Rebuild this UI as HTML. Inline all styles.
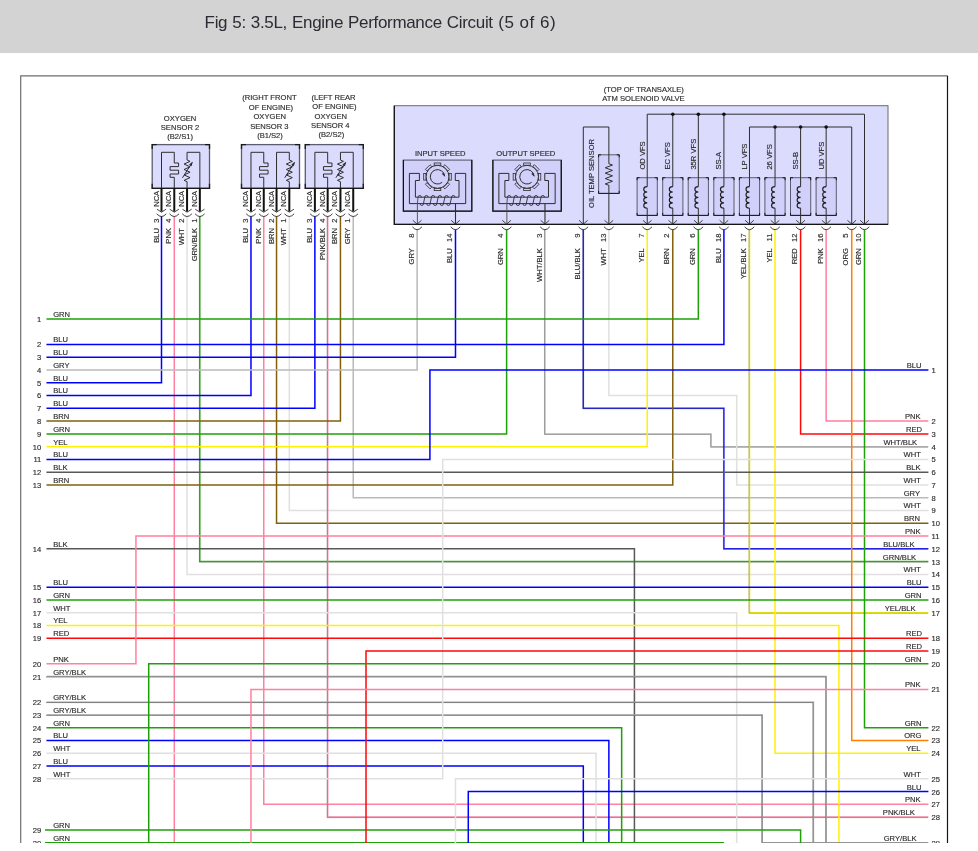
<!DOCTYPE html>
<html><head><meta charset="utf-8"><title>Fig 5: 3.5L, Engine Performance Circuit (5 of 6)</title>
<style>
html,body{margin:0;padding:0;background:#fff;}
body{width:978px;height:851px;position:relative;overflow:hidden;font-family:"Liberation Sans",sans-serif;}
.hdr{position:absolute;left:0;top:0;width:978px;height:53px;background:#d3d3d3;}
.hdr b{font-weight:normal;letter-spacing:0.5px;word-spacing:0;margin-left:0.5px;}
.hdr span{position:absolute;left:204.6px;top:11.6px;font-size:17px;line-height:22px;color:#2b2b33;white-space:nowrap;letter-spacing:-0.32px;word-spacing:0.6px;}
svg{position:absolute;left:0;top:0;}
.t text, text{font-family:"Liberation Sans",sans-serif;font-size:7.6px;fill:#2c2c2c;stroke:#2c2c2c;stroke-width:0.15px;}
</style></head><body>
<div class="hdr"><span>Fig 5: 3.5L, Engine Performance Circuit <b>(5 of 6)</b></span></div>
<svg width="978" height="843" viewBox="0 0 978 843">
<g fill="none" stroke-width="1.5" stroke-linejoin="miter">
<path d="M161.50 216.00 L161.50 382.77 L46.46 382.77" stroke="#0000ff"/>
<path d="M174.28 216.00 L174.28 860.00" stroke="#ff80a0"/>
<path d="M187.06 216.00 L187.06 574.40 L928.42 574.40" stroke="#e0e0e0"/>
<path d="M199.85 216.00 L199.85 561.62 L928.42 561.62" stroke="#3cac28"/>
<path d="M199.85 216.00 L199.85 561.62 L928.42 561.62" stroke="#3a3a3a" stroke-opacity="0.6" stroke-width="0.55" transform="translate(-0.5 0.5)"/>
<path d="M250.97 216.00 L250.97 395.55 L46.46 395.55" stroke="#0000ff"/>
<path d="M263.76 216.00 L263.76 804.35 L928.42 804.35" stroke="#ff80a0"/>
<path d="M276.54 216.00 L276.54 523.30 L928.42 523.30" stroke="#80600a"/>
<path d="M289.32 216.00 L289.32 510.52 L928.42 510.52" stroke="#e0e0e0"/>
<path d="M314.88 216.00 L314.88 408.32 L46.46 408.32" stroke="#0000ff"/>
<path d="M327.67 216.00 L327.67 817.12 L928.42 817.12" stroke="#f088a4"/>
<path d="M327.67 216.00 L327.67 817.12 L928.42 817.12" stroke="#3a3a3a" stroke-opacity="0.6" stroke-width="0.55" transform="translate(-0.5 0.5)"/>
<path d="M340.45 216.00 L340.45 421.10 L46.46 421.10" stroke="#80600a"/>
<path d="M353.23 216.00 L353.23 497.75 L928.42 497.75" stroke="#bababa"/>
<path d="M417.14 229.50 L417.14 370.00 L46.46 370.00" stroke="#bababa"/>
<path d="M455.49 229.50 L455.49 357.22 L46.46 357.22" stroke="#0000ff"/>
<path d="M506.61 229.50 L506.61 433.88 L46.46 433.88" stroke="#1ea008"/>
<path d="M544.96 229.50 L544.96 433.88 L711.13 433.88 L711.13 446.65 L928.42 446.65" stroke="#bcbcbc"/>
<path d="M544.96 229.50 L544.96 433.88 L711.13 433.88 L711.13 446.65 L928.42 446.65" stroke="#3a3a3a" stroke-opacity="0.6" stroke-width="0.55" transform="translate(-0.5 0.5)"/>
<path d="M583.31 229.50 L583.31 408.32 L723.91 408.32 L723.91 548.85 L928.42 548.85" stroke="#2222ee"/>
<path d="M583.31 229.50 L583.31 408.32 L723.91 408.32 L723.91 548.85 L928.42 548.85" stroke="#3a3a3a" stroke-opacity="0.6" stroke-width="0.55" transform="translate(-0.5 0.5)"/>
<path d="M608.87 229.50 L608.87 395.55 L736.69 395.55 L736.69 484.98 L928.42 484.98" stroke="#e0e0e0"/>
<path d="M647.22 229.50 L647.22 446.65 L46.46 446.65" stroke="#fff200"/>
<path d="M672.78 229.50 L672.78 484.98 L46.46 484.98" stroke="#80600a"/>
<path d="M698.34 229.50 L698.34 318.90 L46.46 318.90" stroke="#1ea008"/>
<path d="M723.91 229.50 L723.91 344.45 L46.46 344.45" stroke="#0000ff"/>
<path d="M749.47 229.50 L749.47 612.72 L928.42 612.72" stroke="#ecec10"/>
<path d="M749.47 229.50 L749.47 612.72 L928.42 612.72" stroke="#3a3a3a" stroke-opacity="0.6" stroke-width="0.55" transform="translate(-0.5 0.5)"/>
<path d="M775.04 229.50 L775.04 753.25 L928.42 753.25" stroke="#fff200"/>
<path d="M800.60 229.50 L800.60 433.88 L928.42 433.88" stroke="#ff0808"/>
<path d="M826.16 229.50 L826.16 421.10 L928.42 421.10" stroke="#ff80a0"/>
<path d="M851.73 229.50 L851.73 740.47 L928.42 740.47" stroke="#ff8000"/>
<path d="M864.51 229.50 L864.51 727.70 L928.42 727.70" stroke="#1ea008"/>
<path d="M46.46 459.42 L429.92 459.42 L429.92 370.00 L928.42 370.00" stroke="#0000ff"/>
<path d="M46.46 472.20 L928.42 472.20" stroke="#585858"/>
<path d="M46.46 548.85 L634.43 548.85 L634.43 860.00" stroke="#585858"/>
<path d="M46.46 587.17 L928.42 587.17" stroke="#0000ff"/>
<path d="M46.46 599.95 L928.42 599.95" stroke="#1ea008"/>
<path d="M46.46 612.72 L736.69 612.72 L736.69 860.00" stroke="#e0e0e0"/>
<path d="M46.46 625.50 L838.95 625.50 L838.95 860.00" stroke="#fff200"/>
<path d="M46.46 638.27 L928.42 638.27" stroke="#ff0808"/>
<path d="M46.46 663.83 L135.94 663.83 L135.94 536.08 L928.42 536.08" stroke="#ff80a0"/>
<path d="M46.46 676.60 L826.16 676.60 L826.16 860.00" stroke="#a0a0a0"/>
<path d="M46.46 676.60 L826.16 676.60 L826.16 860.00" stroke="#3a3a3a" stroke-opacity="0.6" stroke-width="0.55" transform="translate(-0.5 0.5)"/>
<path d="M46.46 702.15 L813.38 702.15 L813.38 860.00" stroke="#a0a0a0"/>
<path d="M46.46 702.15 L813.38 702.15 L813.38 860.00" stroke="#3a3a3a" stroke-opacity="0.6" stroke-width="0.55" transform="translate(-0.5 0.5)"/>
<path d="M46.46 714.92 L762.25 714.92 L762.25 842.67 L928.42 842.67" stroke="#a0a0a0"/>
<path d="M46.46 714.92 L762.25 714.92 L762.25 842.67 L928.42 842.67" stroke="#3a3a3a" stroke-opacity="0.6" stroke-width="0.55" transform="translate(-0.5 0.5)"/>
<path d="M46.46 727.70 L621.65 727.70 L621.65 860.00" stroke="#1ea008"/>
<path d="M46.46 740.47 L608.87 740.47 L608.87 860.00" stroke="#0000ff"/>
<path d="M46.46 753.25 L596.09 753.25 L596.09 860.00" stroke="#e0e0e0"/>
<path d="M46.46 766.02 L583.31 766.02 L583.31 860.00" stroke="#0000ff"/>
<path d="M46.46 778.80 L442.70 778.80 L442.70 459.42 L928.42 459.42" stroke="#e0e0e0"/>
<path d="M45.00 829.90 L800.60 829.90 L800.60 860.00" stroke="#1ea008"/>
<path d="M45.00 842.67 L723.91 842.67" stroke="#1ea008"/>
<path d="M928.42 651.05 L366.01 651.05 L366.01 860.00" stroke="#ff0808"/>
<path d="M928.42 663.83 L148.72 663.83 L148.72 860.00" stroke="#1ea008"/>
<path d="M928.42 689.38 L250.97 689.38 L250.97 860.00" stroke="#ff80a0"/>
<path d="M928.42 778.80 L455.49 778.80 L455.49 860.00" stroke="#e0e0e0"/>
<path d="M928.42 791.58 L468.27 791.58 L468.27 860.00" stroke="#0000ff"/>
</g>
<g class="t">
<text x="41.3" y="321.8" text-anchor="end">1</text><text x="53.2" y="316.8">GRN</text>
<text x="41.3" y="347.3" text-anchor="end">2</text><text x="53.2" y="342.3">BLU</text>
<text x="41.3" y="360.1" text-anchor="end">3</text><text x="53.2" y="355.1">BLU</text>
<text x="41.3" y="372.9" text-anchor="end">4</text><text x="53.2" y="367.9">GRY</text>
<text x="41.3" y="385.7" text-anchor="end">5</text><text x="53.2" y="380.7">BLU</text>
<text x="41.3" y="398.4" text-anchor="end">6</text><text x="53.2" y="393.4">BLU</text>
<text x="41.3" y="411.2" text-anchor="end">7</text><text x="53.2" y="406.2">BLU</text>
<text x="41.3" y="424.0" text-anchor="end">8</text><text x="53.2" y="419.0">BRN</text>
<text x="41.3" y="436.8" text-anchor="end">9</text><text x="53.2" y="431.8">GRN</text>
<text x="41.3" y="449.5" text-anchor="end">10</text><text x="53.2" y="444.5">YEL</text>
<text x="41.3" y="462.3" text-anchor="end">11</text><text x="53.2" y="457.3">BLU</text>
<text x="41.3" y="475.1" text-anchor="end">12</text><text x="53.2" y="470.1">BLK</text>
<text x="41.3" y="487.9" text-anchor="end">13</text><text x="53.2" y="482.9">BRN</text>
<text x="41.3" y="551.8" text-anchor="end">14</text><text x="53.2" y="546.8">BLK</text>
<text x="41.3" y="590.1" text-anchor="end">15</text><text x="53.2" y="585.1">BLU</text>
<text x="41.3" y="602.9" text-anchor="end">16</text><text x="53.2" y="597.9">GRN</text>
<text x="41.3" y="615.6" text-anchor="end">17</text><text x="53.2" y="610.6">WHT</text>
<text x="41.3" y="628.4" text-anchor="end">18</text><text x="53.2" y="623.4">YEL</text>
<text x="41.3" y="641.2" text-anchor="end">19</text><text x="53.2" y="636.2">RED</text>
<text x="41.3" y="666.7" text-anchor="end">20</text><text x="53.2" y="661.7">PNK</text>
<text x="41.3" y="679.5" text-anchor="end">21</text><text x="53.2" y="674.5">GRY/BLK</text>
<text x="41.3" y="705.0" text-anchor="end">22</text><text x="53.2" y="700.0">GRY/BLK</text>
<text x="41.3" y="717.8" text-anchor="end">23</text><text x="53.2" y="712.8">GRY/BLK</text>
<text x="41.3" y="730.6" text-anchor="end">24</text><text x="53.2" y="725.6">GRN</text>
<text x="41.3" y="743.4" text-anchor="end">25</text><text x="53.2" y="738.4">BLU</text>
<text x="41.3" y="756.1" text-anchor="end">26</text><text x="53.2" y="751.1">WHT</text>
<text x="41.3" y="768.9" text-anchor="end">27</text><text x="53.2" y="763.9">BLU</text>
<text x="41.3" y="781.7" text-anchor="end">28</text><text x="53.2" y="776.7">WHT</text>
<text x="41.3" y="832.8" text-anchor="end">29</text><text x="53.2" y="827.8">GRN</text>
<text x="41.3" y="845.6" text-anchor="end">30</text><text x="53.2" y="840.6">GRN</text>
<text x="931.5" y="372.9">1</text><text x="921.5" y="367.9" text-anchor="end">BLU</text>
<text x="931.5" y="424.0">2</text><text x="920.5" y="419.0" text-anchor="end">PNK</text>
<text x="931.5" y="436.8">3</text><text x="922.0" y="431.8" text-anchor="end">RED</text>
<text x="931.5" y="449.5">4</text><text x="917.2" y="444.5" text-anchor="end">WHT/BLK</text>
<text x="931.5" y="462.3">5</text><text x="920.8" y="457.3" text-anchor="end">WHT</text>
<text x="931.5" y="475.1">6</text><text x="920.5" y="470.1" text-anchor="end">BLK</text>
<text x="931.5" y="487.9">7</text><text x="920.8" y="482.9" text-anchor="end">WHT</text>
<text x="931.5" y="500.6">8</text><text x="920.0" y="495.6" text-anchor="end">GRY</text>
<text x="931.5" y="513.4">9</text><text x="920.8" y="508.4" text-anchor="end">WHT</text>
<text x="931.5" y="526.2">10</text><text x="920.0" y="521.2" text-anchor="end">BRN</text>
<text x="931.5" y="539.0">11</text><text x="920.5" y="534.0" text-anchor="end">PNK</text>
<text x="931.5" y="551.8">12</text><text x="914.5" y="546.8" text-anchor="end">BLU/BLK</text>
<text x="931.5" y="564.5">13</text><text x="916.2" y="559.5" text-anchor="end">GRN/BLK</text>
<text x="931.5" y="577.3">14</text><text x="920.8" y="572.3" text-anchor="end">WHT</text>
<text x="931.5" y="590.1">15</text><text x="921.5" y="585.1" text-anchor="end">BLU</text>
<text x="931.5" y="602.9">16</text><text x="921.5" y="597.9" text-anchor="end">GRN</text>
<text x="931.5" y="615.6">17</text><text x="915.5" y="610.6" text-anchor="end">YEL/BLK</text>
<text x="931.5" y="641.2">18</text><text x="922.0" y="636.2" text-anchor="end">RED</text>
<text x="931.5" y="653.9">19</text><text x="922.0" y="648.9" text-anchor="end">RED</text>
<text x="931.5" y="666.7">20</text><text x="921.5" y="661.7" text-anchor="end">GRN</text>
<text x="931.5" y="692.3">21</text><text x="920.5" y="687.3" text-anchor="end">PNK</text>
<text x="931.5" y="730.6">22</text><text x="921.5" y="725.6" text-anchor="end">GRN</text>
<text x="931.5" y="743.4">23</text><text x="921.5" y="738.4" text-anchor="end">ORG</text>
<text x="931.5" y="756.1">24</text><text x="920.5" y="751.1" text-anchor="end">YEL</text>
<text x="931.5" y="781.7">25</text><text x="920.8" y="776.7" text-anchor="end">WHT</text>
<text x="931.5" y="794.5">26</text><text x="921.5" y="789.5" text-anchor="end">BLU</text>
<text x="931.5" y="807.2">27</text><text x="920.5" y="802.2" text-anchor="end">PNK</text>
<text x="931.5" y="820.0">28</text><text x="914.9" y="815.0" text-anchor="end">PNK/BLK</text>
<text x="931.5" y="845.6">29</text><text x="916.5" y="840.6" text-anchor="end">GRY/BLK</text>
</g>
<rect x="152.2" y="144.6" width="57.3" height="43.7" fill="#dbdbfd" stroke="#5c5c70" stroke-width="1.3"/>
<path d="M152.2 149.1 V144.6 H156.7 M205.0 144.6 H209.5 V149.1 M209.5 183.8 V188.3 H152.2 V183.8" stroke="#1a1a1a" stroke-width="1.3" fill="none" stroke-linecap="butt"/>
<path d="M161.5 188 V152.3 H174.28 M174.28 152.3 V163 H178.58 V166.6 H170.08 V170.2 H178.58 V174 H170.08 V177.3 H174.28 V188" stroke="#2e2e2e" stroke-width="1" fill="none"/>
<path d="M199.85 188 V152.3 H187.06 V160 " stroke="#2e2e2e" stroke-width="1" fill="none"/>
<path d="M187.06 160.00 L190.06 161.36 L184.06 164.07 L190.06 166.78 L184.06 169.49 L190.06 172.21 L184.06 174.92 L190.06 177.63 L184.06 180.34 L187.06 181.70 V188" stroke="#2e2e2e" stroke-width="1" fill="none"/>
<path d="M182.46 177.8 L192.26 162.4" stroke="#2e2e2e" stroke-width="1" fill="none"/>
<path d="M192.66 161.8 L189.06 164.4 L191.66 166.2 Z" fill="#2e2e2e"/>
<path d="M161.5 188 V211.6" stroke="#111" stroke-width="2" fill="none"/>
<path d="M156.9 209.2 L161.5 212.2 L166.1 209.2 M156.7 213.8 Q161.5 219.2 166.3 213.8" stroke="#2e2e2e" stroke-width="0.9" fill="none"/>
<path d="M174.28 188 V211.6" stroke="#111" stroke-width="2" fill="none"/>
<path d="M169.68 209.2 L174.28 212.2 L178.88 209.2 M169.48 213.8 Q174.28 219.2 179.08 213.8" stroke="#2e2e2e" stroke-width="0.9" fill="none"/>
<path d="M187.06 188 V211.6" stroke="#111" stroke-width="2" fill="none"/>
<path d="M182.46 209.2 L187.06 212.2 L191.66 209.2 M182.26 213.8 Q187.06 219.2 191.86 213.8" stroke="#2e2e2e" stroke-width="0.9" fill="none"/>
<path d="M199.85 188 V211.6" stroke="#111" stroke-width="2" fill="none"/>
<path d="M195.25 209.2 L199.85 212.2 L204.45 209.2 M195.04999999999998 213.8 Q199.85 219.2 204.65 213.8" stroke="#2e2e2e" stroke-width="0.9" fill="none"/>
<rect x="241.5" y="144.6" width="58.0" height="43.7" fill="#dbdbfd" stroke="#5c5c70" stroke-width="1.3"/>
<path d="M241.5 149.1 V144.6 H246.0 M295.0 144.6 H299.5 V149.1 M299.5 183.8 V188.3 H241.5 V183.8" stroke="#1a1a1a" stroke-width="1.3" fill="none" stroke-linecap="butt"/>
<path d="M250.97 188 V152.3 H263.76 M263.76 152.3 V163 H268.06 V166.6 H259.56 V170.2 H268.06 V174 H259.56 V177.3 H263.76 V188" stroke="#2e2e2e" stroke-width="1" fill="none"/>
<path d="M276.54 188 V152.3 H289.32 V160 " stroke="#2e2e2e" stroke-width="1" fill="none"/>
<path d="M289.32 160.00 L292.32 161.36 L286.32 164.07 L292.32 166.78 L286.32 169.49 L292.32 172.21 L286.32 174.92 L292.32 177.63 L286.32 180.34 L289.32 181.70 V188" stroke="#2e2e2e" stroke-width="1" fill="none"/>
<path d="M284.71999999999997 177.8 L294.52 162.4" stroke="#2e2e2e" stroke-width="1" fill="none"/>
<path d="M294.92 161.8 L291.32 164.4 L293.92 166.2 Z" fill="#2e2e2e"/>
<path d="M250.97 188 V211.6" stroke="#111" stroke-width="2" fill="none"/>
<path d="M246.37 209.2 L250.97 212.2 L255.57 209.2 M246.17 213.8 Q250.97 219.2 255.77 213.8" stroke="#2e2e2e" stroke-width="0.9" fill="none"/>
<path d="M263.76 188 V211.6" stroke="#111" stroke-width="2" fill="none"/>
<path d="M259.15999999999997 209.2 L263.76 212.2 L268.36 209.2 M258.96 213.8 Q263.76 219.2 268.56 213.8" stroke="#2e2e2e" stroke-width="0.9" fill="none"/>
<path d="M276.54 188 V211.6" stroke="#111" stroke-width="2" fill="none"/>
<path d="M271.94 209.2 L276.54 212.2 L281.14000000000004 209.2 M271.74 213.8 Q276.54 219.2 281.34000000000003 213.8" stroke="#2e2e2e" stroke-width="0.9" fill="none"/>
<path d="M289.32 188 V211.6" stroke="#111" stroke-width="2" fill="none"/>
<path d="M284.71999999999997 209.2 L289.32 212.2 L293.92 209.2 M284.52 213.8 Q289.32 219.2 294.12 213.8" stroke="#2e2e2e" stroke-width="0.9" fill="none"/>
<rect x="305.3" y="144.6" width="58.0" height="43.7" fill="#dbdbfd" stroke="#5c5c70" stroke-width="1.3"/>
<path d="M305.3 149.1 V144.6 H309.8 M358.8 144.6 H363.3 V149.1 M363.3 183.8 V188.3 H305.3 V183.8" stroke="#1a1a1a" stroke-width="1.3" fill="none" stroke-linecap="butt"/>
<path d="M314.88 188 V152.3 H327.67 M327.67 152.3 V163 H331.97 V166.6 H323.47 V170.2 H331.97 V174 H323.47 V177.3 H327.67 V188" stroke="#2e2e2e" stroke-width="1" fill="none"/>
<path d="M353.23 188 V152.3 H340.45 V160 " stroke="#2e2e2e" stroke-width="1" fill="none"/>
<path d="M340.45 160.00 L343.45 161.36 L337.45 164.07 L343.45 166.78 L337.45 169.49 L343.45 172.21 L337.45 174.92 L343.45 177.63 L337.45 180.34 L340.45 181.70 V188" stroke="#2e2e2e" stroke-width="1" fill="none"/>
<path d="M335.84999999999997 177.8 L345.65 162.4" stroke="#2e2e2e" stroke-width="1" fill="none"/>
<path d="M346.05 161.8 L342.45 164.4 L345.05 166.2 Z" fill="#2e2e2e"/>
<path d="M314.88 188 V211.6" stroke="#111" stroke-width="2" fill="none"/>
<path d="M310.28 209.2 L314.88 212.2 L319.48 209.2 M310.08 213.8 Q314.88 219.2 319.68 213.8" stroke="#2e2e2e" stroke-width="0.9" fill="none"/>
<path d="M327.67 188 V211.6" stroke="#111" stroke-width="2" fill="none"/>
<path d="M323.07 209.2 L327.67 212.2 L332.27000000000004 209.2 M322.87 213.8 Q327.67 219.2 332.47 213.8" stroke="#2e2e2e" stroke-width="0.9" fill="none"/>
<path d="M340.45 188 V211.6" stroke="#111" stroke-width="2" fill="none"/>
<path d="M335.84999999999997 209.2 L340.45 212.2 L345.05 209.2 M335.65 213.8 Q340.45 219.2 345.25 213.8" stroke="#2e2e2e" stroke-width="0.9" fill="none"/>
<path d="M353.23 188 V211.6" stroke="#111" stroke-width="2" fill="none"/>
<path d="M348.63 209.2 L353.23 212.2 L357.83000000000004 209.2 M348.43 213.8 Q353.23 219.2 358.03000000000003 213.8" stroke="#2e2e2e" stroke-width="0.9" fill="none"/>
<g class="t">
<text transform="translate(158.5 190.8) rotate(-90)" text-anchor="end">NCA</text>
<text transform="translate(158.5 218.6) rotate(-90)" text-anchor="end">3</text>
<text transform="translate(158.5 228.0) rotate(-90)" text-anchor="end">BLU</text>
<text transform="translate(171.3 190.8) rotate(-90)" text-anchor="end">NCA</text>
<text transform="translate(171.3 218.6) rotate(-90)" text-anchor="end">4</text>
<text transform="translate(171.3 228.0) rotate(-90)" text-anchor="end">PNK</text>
<text transform="translate(184.1 190.8) rotate(-90)" text-anchor="end">NCA</text>
<text transform="translate(184.1 218.6) rotate(-90)" text-anchor="end">2</text>
<text transform="translate(184.1 228.0) rotate(-90)" text-anchor="end">WHT</text>
<text transform="translate(196.8 190.8) rotate(-90)" text-anchor="end">NCA</text>
<text transform="translate(196.8 218.6) rotate(-90)" text-anchor="end">1</text>
<text transform="translate(196.8 228.0) rotate(-90)" text-anchor="end">GRN/BLK</text>
<text transform="translate(248.0 190.8) rotate(-90)" text-anchor="end">NCA</text>
<text transform="translate(248.0 218.6) rotate(-90)" text-anchor="end">3</text>
<text transform="translate(248.0 228.0) rotate(-90)" text-anchor="end">BLU</text>
<text transform="translate(260.8 190.8) rotate(-90)" text-anchor="end">NCA</text>
<text transform="translate(260.8 218.6) rotate(-90)" text-anchor="end">4</text>
<text transform="translate(260.8 228.0) rotate(-90)" text-anchor="end">PNK</text>
<text transform="translate(273.5 190.8) rotate(-90)" text-anchor="end">NCA</text>
<text transform="translate(273.5 218.6) rotate(-90)" text-anchor="end">2</text>
<text transform="translate(273.5 228.0) rotate(-90)" text-anchor="end">BRN</text>
<text transform="translate(286.3 190.8) rotate(-90)" text-anchor="end">NCA</text>
<text transform="translate(286.3 218.6) rotate(-90)" text-anchor="end">1</text>
<text transform="translate(286.3 228.0) rotate(-90)" text-anchor="end">WHT</text>
<text transform="translate(311.9 190.8) rotate(-90)" text-anchor="end">NCA</text>
<text transform="translate(311.9 218.6) rotate(-90)" text-anchor="end">3</text>
<text transform="translate(311.9 228.0) rotate(-90)" text-anchor="end">BLU</text>
<text transform="translate(324.7 190.8) rotate(-90)" text-anchor="end">NCA</text>
<text transform="translate(324.7 218.6) rotate(-90)" text-anchor="end">4</text>
<text transform="translate(324.7 228.0) rotate(-90)" text-anchor="end">PNK/BLK</text>
<text transform="translate(337.4 190.8) rotate(-90)" text-anchor="end">NCA</text>
<text transform="translate(337.4 218.6) rotate(-90)" text-anchor="end">2</text>
<text transform="translate(337.4 228.0) rotate(-90)" text-anchor="end">BRN</text>
<text transform="translate(350.2 190.8) rotate(-90)" text-anchor="end">NCA</text>
<text transform="translate(350.2 218.6) rotate(-90)" text-anchor="end">1</text>
<text transform="translate(350.2 228.0) rotate(-90)" text-anchor="end">GRY</text>
</g>
<rect x="394.3" y="105.7" width="493.7" height="118.6" fill="#dbdbfd" stroke="#6a6a6a" stroke-width="1"/>
<path d="M394.3 105.7 V224.3 H888" stroke="#141414" stroke-width="1.3" fill="none"/>
<rect x="403.4" y="160.1" width="68.4" height="51.1" fill="#d0d0fa" stroke="#66667c" stroke-width="1.2"/>
<path d="M403.4 160.1 V211.2 H471.79999999999995 V160.1" fill="none" stroke="#121212" stroke-width="1.2"/>
<path d="M409.4 173.4 H419.4 V180.5 H415.4 V197.2 H459.0 V180.5 H455.3 V173.4 H465.7 V203.6 H409.4 Z" stroke="#2e2e2e" stroke-width="1" fill="none"/>
<circle cx="437.5" cy="176.8" r="11.5" stroke="#2e2e2e" stroke-width="1" fill="none"/>
 <rect x="434.2" y="163.0" width="6.6" height="2.2" stroke="#2e2e2e" stroke-width="0.8" fill="#d0d0fa" transform="rotate(0 437.5 176.8)"/>
 <rect x="434.2" y="163.0" width="6.6" height="2.2" stroke="#2e2e2e" stroke-width="0.8" fill="#d0d0fa" transform="rotate(45 437.5 176.8)"/>
 <rect x="434.2" y="163.0" width="6.6" height="2.2" stroke="#2e2e2e" stroke-width="0.8" fill="#d0d0fa" transform="rotate(90 437.5 176.8)"/>
 <rect x="434.2" y="163.0" width="6.6" height="2.2" stroke="#2e2e2e" stroke-width="0.8" fill="#d0d0fa" transform="rotate(135 437.5 176.8)"/>
 <rect x="434.2" y="163.0" width="6.6" height="2.2" stroke="#2e2e2e" stroke-width="0.8" fill="#d0d0fa" transform="rotate(180 437.5 176.8)"/>
 <rect x="434.2" y="163.0" width="6.6" height="2.2" stroke="#2e2e2e" stroke-width="0.8" fill="#d0d0fa" transform="rotate(225 437.5 176.8)"/>
 <rect x="434.2" y="163.0" width="6.6" height="2.2" stroke="#2e2e2e" stroke-width="0.8" fill="#d0d0fa" transform="rotate(270 437.5 176.8)"/>
 <rect x="434.2" y="163.0" width="6.6" height="2.2" stroke="#2e2e2e" stroke-width="0.8" fill="#d0d0fa" transform="rotate(315 437.5 176.8)"/>
<path d="M442.13 182.32 A7.2 7.2 0 1 1 444.66 176.05" stroke="#2e2e2e" stroke-width="1" fill="none"/>
<path d="M445.16 177.05 L441.76 173.65 L443.76 172.65 Z" fill="#2e2e2e"/>
<path d="M418.00 197.2 A1.7 1.7 0 0 1 421.40 197.2 M424.72 197.2 A1.7 1.7 0 0 1 428.12 197.2 M431.44 197.2 A1.7 1.7 0 0 1 434.84 197.2 M438.16 197.2 A1.7 1.7 0 0 1 441.56 197.2 M444.88 197.2 A1.7 1.7 0 0 1 448.28 197.2 M451.60 197.2 A1.7 1.7 0 0 1 455.00 197.2 M420.10 203.6 A1.7 1.9 0 0 0 423.50 203.6 L424.72 197.2 M426.76 203.6 A1.7 1.9 0 0 0 430.16 203.6 L431.44 197.2 M433.42 203.6 A1.7 1.9 0 0 0 436.82 203.6 L438.16 197.2 M440.08 203.6 A1.7 1.9 0 0 0 443.48 203.6 L444.88 197.2 M446.74 203.6 A1.7 1.9 0 0 0 450.14 203.6 L451.60 197.2 " stroke="#2e2e2e" stroke-width="0.9" fill="none"/>
<path d="M418.00 197.2 L417.4 203.4 V224" stroke="#4a4a4a" stroke-width="0.9" fill="none"/>
<path d="M455.5 203.6 V224" stroke="#2e2e2e" stroke-width="1.1" fill="none"/>
<rect x="492.87" y="160.1" width="68.4" height="51.1" fill="#d0d0fa" stroke="#66667c" stroke-width="1.2"/>
<path d="M492.87 160.1 V211.2 H561.27 V160.1" fill="none" stroke="#121212" stroke-width="1.2"/>
<path d="M498.87 173.4 H508.87 V180.5 H504.87 V197.2 H548.47 V180.5 H544.77 V173.4 H555.1700000000001 V203.6 H498.87 Z" stroke="#2e2e2e" stroke-width="1" fill="none"/>
<circle cx="526.97" cy="176.8" r="11.5" stroke="#2e2e2e" stroke-width="1" fill="none"/>
 <rect x="523.6700000000001" y="163.0" width="6.6" height="2.2" stroke="#2e2e2e" stroke-width="0.8" fill="#d0d0fa" transform="rotate(0 526.97 176.8)"/>
 <rect x="523.6700000000001" y="163.0" width="6.6" height="2.2" stroke="#2e2e2e" stroke-width="0.8" fill="#d0d0fa" transform="rotate(45 526.97 176.8)"/>
 <rect x="523.6700000000001" y="163.0" width="6.6" height="2.2" stroke="#2e2e2e" stroke-width="0.8" fill="#d0d0fa" transform="rotate(90 526.97 176.8)"/>
 <rect x="523.6700000000001" y="163.0" width="6.6" height="2.2" stroke="#2e2e2e" stroke-width="0.8" fill="#d0d0fa" transform="rotate(135 526.97 176.8)"/>
 <rect x="523.6700000000001" y="163.0" width="6.6" height="2.2" stroke="#2e2e2e" stroke-width="0.8" fill="#d0d0fa" transform="rotate(180 526.97 176.8)"/>
 <rect x="523.6700000000001" y="163.0" width="6.6" height="2.2" stroke="#2e2e2e" stroke-width="0.8" fill="#d0d0fa" transform="rotate(225 526.97 176.8)"/>
 <rect x="523.6700000000001" y="163.0" width="6.6" height="2.2" stroke="#2e2e2e" stroke-width="0.8" fill="#d0d0fa" transform="rotate(270 526.97 176.8)"/>
 <rect x="523.6700000000001" y="163.0" width="6.6" height="2.2" stroke="#2e2e2e" stroke-width="0.8" fill="#d0d0fa" transform="rotate(315 526.97 176.8)"/>
<path d="M531.60 182.32 A7.2 7.2 0 1 1 534.13 176.05" stroke="#2e2e2e" stroke-width="1" fill="none"/>
<path d="M534.63 177.05 L531.23 173.65 L533.23 172.65 Z" fill="#2e2e2e"/>
<path d="M507.47 197.2 A1.7 1.7 0 0 1 510.87 197.2 M514.19 197.2 A1.7 1.7 0 0 1 517.59 197.2 M520.91 197.2 A1.7 1.7 0 0 1 524.31 197.2 M527.63 197.2 A1.7 1.7 0 0 1 531.03 197.2 M534.35 197.2 A1.7 1.7 0 0 1 537.75 197.2 M541.07 197.2 A1.7 1.7 0 0 1 544.47 197.2 M509.57 203.6 A1.7 1.9 0 0 0 512.97 203.6 L514.19 197.2 M516.23 203.6 A1.7 1.9 0 0 0 519.63 203.6 L520.91 197.2 M522.89 203.6 A1.7 1.9 0 0 0 526.29 203.6 L527.63 197.2 M529.55 203.6 A1.7 1.9 0 0 0 532.95 203.6 L534.35 197.2 M536.21 203.6 A1.7 1.9 0 0 0 539.61 203.6 L541.07 197.2 " stroke="#2e2e2e" stroke-width="0.9" fill="none"/>
<path d="M507.47 197.2 L506.87 203.4 V224" stroke="#4a4a4a" stroke-width="0.9" fill="none"/>
<path d="M544.97 203.6 V224" stroke="#2e2e2e" stroke-width="1.1" fill="none"/>
<rect x="598.6" y="154.8" width="20.6" height="38.6" fill="#d0d0fa" stroke="#5c5c70" stroke-width="1.0"/>
<path d="M598.6 157.3 V154.8 H601.1 M616.7 154.8 H619.2 V157.3 M619.2 190.9 V193.4 H598.6 V190.9" stroke="#1a1a1a" stroke-width="1.0" fill="none" stroke-linecap="butt"/>
<path d="M583.31 224 V127 H608.87 V163.7" stroke="#2e2e2e" stroke-width="1" fill="none"/>
<path d="M608.87 163.70 L612.47 165.05 L605.27 167.75 L612.47 170.45 L605.27 173.15 L612.47 175.85 L605.27 178.55 L612.47 181.25 L605.27 183.95 L608.87 185.30 V224" stroke="#2e2e2e" stroke-width="1" fill="none"/>
<rect x="637.1" y="177.7" width="20.2" height="37.7" fill="#d0d0fa" stroke="#5c5c70" stroke-width="1.0"/>
<path d="M637.1 180.2 V177.7 H639.6 M654.8 177.7 H657.3 V180.2 M657.3 212.9 V215.4 H637.1 V212.9" stroke="#1a1a1a" stroke-width="1.0" fill="none" stroke-linecap="butt"/>
<path d="M647.22 114.2 V186.6 M647.22 208.2 V224" stroke="#2e2e2e" stroke-width="1" fill="none"/>
<path d="M647.22 186.6 C642.63 186.60 642.63 192.00 647.22 192.00 C642.63 192.00 642.63 197.40 647.22 197.40 C642.63 197.40 642.63 202.80 647.22 202.80 C642.63 202.80 642.63 208.20 647.22 208.20 " stroke="#1c1c1c" stroke-width="1.2" fill="none"/>
<rect x="662.7" y="177.7" width="20.2" height="37.7" fill="#d0d0fa" stroke="#5c5c70" stroke-width="1.0"/>
<path d="M662.7 180.2 V177.7 H665.2 M680.4 177.7 H682.9 V180.2 M682.9 212.9 V215.4 H662.7 V212.9" stroke="#1a1a1a" stroke-width="1.0" fill="none" stroke-linecap="butt"/>
<path d="M672.78 114.2 V186.6 M672.78 208.2 V224" stroke="#2e2e2e" stroke-width="1" fill="none"/>
<path d="M672.78 186.6 C668.19 186.60 668.19 192.00 672.78 192.00 C668.19 192.00 668.19 197.40 672.78 197.40 C668.19 197.40 668.19 202.80 672.78 202.80 C668.19 202.80 668.19 208.20 672.78 208.20 " stroke="#1c1c1c" stroke-width="1.2" fill="none"/>
<rect x="688.2" y="177.7" width="20.2" height="37.7" fill="#d0d0fa" stroke="#5c5c70" stroke-width="1.0"/>
<path d="M688.2 180.2 V177.7 H690.7 M705.9 177.7 H708.4 V180.2 M708.4 212.9 V215.4 H688.2 V212.9" stroke="#1a1a1a" stroke-width="1.0" fill="none" stroke-linecap="butt"/>
<path d="M698.34 114.2 V186.6 M698.34 208.2 V224" stroke="#2e2e2e" stroke-width="1" fill="none"/>
<path d="M698.34 186.6 C693.75 186.60 693.75 192.00 698.34 192.00 C693.75 192.00 693.75 197.40 698.34 197.40 C693.75 197.40 693.75 202.80 698.34 202.80 C693.75 202.80 693.75 208.20 698.34 208.20 " stroke="#1c1c1c" stroke-width="1.2" fill="none"/>
<rect x="713.8" y="177.7" width="20.2" height="37.7" fill="#d0d0fa" stroke="#5c5c70" stroke-width="1.0"/>
<path d="M713.8 180.2 V177.7 H716.3 M731.5 177.7 H734.0 V180.2 M734.0 212.9 V215.4 H713.8 V212.9" stroke="#1a1a1a" stroke-width="1.0" fill="none" stroke-linecap="butt"/>
<path d="M723.91 114.2 V186.6 M723.91 208.2 V224" stroke="#2e2e2e" stroke-width="1" fill="none"/>
<path d="M723.91 186.6 C719.32 186.60 719.32 192.00 723.91 192.00 C719.32 192.00 719.32 197.40 723.91 197.40 C719.32 197.40 719.32 202.80 723.91 202.80 C719.32 202.80 719.32 208.20 723.91 208.20 " stroke="#1c1c1c" stroke-width="1.2" fill="none"/>
<rect x="739.4" y="177.7" width="20.2" height="37.7" fill="#d0d0fa" stroke="#5c5c70" stroke-width="1.0"/>
<path d="M739.4 180.2 V177.7 H741.9 M757.1 177.7 H759.6 V180.2 M759.6 212.9 V215.4 H739.4 V212.9" stroke="#1a1a1a" stroke-width="1.0" fill="none" stroke-linecap="butt"/>
<path d="M749.47 127 V186.6 M749.47 208.2 V224" stroke="#2e2e2e" stroke-width="1" fill="none"/>
<path d="M749.47 186.6 C744.88 186.60 744.88 192.00 749.47 192.00 C744.88 192.00 744.88 197.40 749.47 197.40 C744.88 197.40 744.88 202.80 749.47 202.80 C744.88 202.80 744.88 208.20 749.47 208.20 " stroke="#1c1c1c" stroke-width="1.2" fill="none"/>
<rect x="764.9" y="177.7" width="20.2" height="37.7" fill="#d0d0fa" stroke="#5c5c70" stroke-width="1.0"/>
<path d="M764.9 180.2 V177.7 H767.4 M782.6 177.7 H785.1 V180.2 M785.1 212.9 V215.4 H764.9 V212.9" stroke="#1a1a1a" stroke-width="1.0" fill="none" stroke-linecap="butt"/>
<path d="M775.04 127 V186.6 M775.04 208.2 V224" stroke="#2e2e2e" stroke-width="1" fill="none"/>
<path d="M775.04 186.6 C770.45 186.60 770.45 192.00 775.04 192.00 C770.45 192.00 770.45 197.40 775.04 197.40 C770.45 197.40 770.45 202.80 775.04 202.80 C770.45 202.80 770.45 208.20 775.04 208.20 " stroke="#1c1c1c" stroke-width="1.2" fill="none"/>
<rect x="790.5" y="177.7" width="20.2" height="37.7" fill="#d0d0fa" stroke="#5c5c70" stroke-width="1.0"/>
<path d="M790.5 180.2 V177.7 H793.0 M808.2 177.7 H810.7 V180.2 M810.7 212.9 V215.4 H790.5 V212.9" stroke="#1a1a1a" stroke-width="1.0" fill="none" stroke-linecap="butt"/>
<path d="M800.6 127 V186.6 M800.6 208.2 V224" stroke="#2e2e2e" stroke-width="1" fill="none"/>
<path d="M800.6 186.6 C796.01 186.60 796.01 192.00 800.6 192.00 C796.01 192.00 796.01 197.40 800.6 197.40 C796.01 197.40 796.01 202.80 800.6 202.80 C796.01 202.80 796.01 208.20 800.6 208.20 " stroke="#1c1c1c" stroke-width="1.2" fill="none"/>
<rect x="816.1" y="177.7" width="20.2" height="37.7" fill="#d0d0fa" stroke="#5c5c70" stroke-width="1.0"/>
<path d="M816.1 180.2 V177.7 H818.6 M833.8 177.7 H836.3 V180.2 M836.3 212.9 V215.4 H816.1 V212.9" stroke="#1a1a1a" stroke-width="1.0" fill="none" stroke-linecap="butt"/>
<path d="M826.16 127 V186.6 M826.16 208.2 V224" stroke="#2e2e2e" stroke-width="1" fill="none"/>
<path d="M826.16 186.6 C821.57 186.60 821.57 192.00 826.16 192.00 C821.57 192.00 821.57 197.40 826.16 197.40 C821.57 197.40 821.57 202.80 826.16 202.80 C821.57 202.80 821.57 208.20 826.16 208.20 " stroke="#1c1c1c" stroke-width="1.2" fill="none"/>
<path d="M647.22 114.2 H864.51 V224 M749.47 127 H851.73 V224" stroke="#2e2e2e" stroke-width="1" fill="none"/>
<circle cx="672.78" cy="114.2" r="1.8" fill="#111"/>
<circle cx="698.34" cy="114.2" r="1.8" fill="#111"/>
<circle cx="723.91" cy="114.2" r="1.8" fill="#111"/>
<circle cx="775.04" cy="127" r="1.8" fill="#111"/>
<circle cx="800.6" cy="127" r="1.8" fill="#111"/>
<circle cx="826.16" cy="127" r="1.8" fill="#111"/>
<path d="M412.84 220.3 L417.14 224.2 L421.44 220.3 M412.34 226.8 Q417.14 232.6 421.94 226.8" stroke="#2e2e2e" stroke-width="0.9" fill="none"/>
<path d="M451.19 220.3 L455.49 224.2 L459.79 220.3 M450.69 226.8 Q455.49 232.6 460.29 226.8" stroke="#2e2e2e" stroke-width="0.9" fill="none"/>
<path d="M502.31 220.3 L506.61 224.2 L510.91 220.3 M501.81 226.8 Q506.61 232.6 511.41 226.8" stroke="#2e2e2e" stroke-width="0.9" fill="none"/>
<path d="M540.6600000000001 220.3 L544.96 224.2 L549.26 220.3 M540.1600000000001 226.8 Q544.96 232.6 549.76 226.8" stroke="#2e2e2e" stroke-width="0.9" fill="none"/>
<path d="M579.01 220.3 L583.31 224.2 L587.6099999999999 220.3 M578.51 226.8 Q583.31 232.6 588.1099999999999 226.8" stroke="#2e2e2e" stroke-width="0.9" fill="none"/>
<path d="M604.57 220.3 L608.87 224.2 L613.17 220.3 M604.07 226.8 Q608.87 232.6 613.67 226.8" stroke="#2e2e2e" stroke-width="0.9" fill="none"/>
<path d="M642.9200000000001 220.3 L647.22 224.2 L651.52 220.3 M642.4200000000001 226.8 Q647.22 232.6 652.02 226.8" stroke="#2e2e2e" stroke-width="0.9" fill="none"/>
<path d="M668.48 220.3 L672.78 224.2 L677.0799999999999 220.3 M667.98 226.8 Q672.78 232.6 677.5799999999999 226.8" stroke="#2e2e2e" stroke-width="0.9" fill="none"/>
<path d="M694.0400000000001 220.3 L698.34 224.2 L702.64 220.3 M693.5400000000001 226.8 Q698.34 232.6 703.14 226.8" stroke="#2e2e2e" stroke-width="0.9" fill="none"/>
<path d="M719.61 220.3 L723.91 224.2 L728.2099999999999 220.3 M719.11 226.8 Q723.91 232.6 728.7099999999999 226.8" stroke="#2e2e2e" stroke-width="0.9" fill="none"/>
<path d="M745.1700000000001 220.3 L749.47 224.2 L753.77 220.3 M744.6700000000001 226.8 Q749.47 232.6 754.27 226.8" stroke="#2e2e2e" stroke-width="0.9" fill="none"/>
<path d="M770.74 220.3 L775.04 224.2 L779.3399999999999 220.3 M770.24 226.8 Q775.04 232.6 779.8399999999999 226.8" stroke="#2e2e2e" stroke-width="0.9" fill="none"/>
<path d="M796.3000000000001 220.3 L800.6 224.2 L804.9 220.3 M795.8000000000001 226.8 Q800.6 232.6 805.4 226.8" stroke="#2e2e2e" stroke-width="0.9" fill="none"/>
<path d="M821.86 220.3 L826.16 224.2 L830.4599999999999 220.3 M821.36 226.8 Q826.16 232.6 830.9599999999999 226.8" stroke="#2e2e2e" stroke-width="0.9" fill="none"/>
<path d="M847.4300000000001 220.3 L851.73 224.2 L856.03 220.3 M846.9300000000001 226.8 Q851.73 232.6 856.53 226.8" stroke="#2e2e2e" stroke-width="0.9" fill="none"/>
<path d="M860.21 220.3 L864.51 224.2 L868.81 220.3 M859.71 226.8 Q864.51 232.6 869.31 226.8" stroke="#2e2e2e" stroke-width="0.9" fill="none"/>
<g class="t">
<text transform="translate(413.7 233.6) rotate(-90)" text-anchor="end">8</text>
<text transform="translate(413.7 248.2) rotate(-90)" text-anchor="end">GRY</text>
<text transform="translate(452.1 233.6) rotate(-90)" text-anchor="end">14</text>
<text transform="translate(452.1 248.2) rotate(-90)" text-anchor="end">BLU</text>
<text transform="translate(503.2 233.6) rotate(-90)" text-anchor="end">4</text>
<text transform="translate(503.2 248.2) rotate(-90)" text-anchor="end">GRN</text>
<text transform="translate(541.6 233.6) rotate(-90)" text-anchor="end">3</text>
<text transform="translate(541.6 248.2) rotate(-90)" text-anchor="end">WHT/BLK</text>
<text transform="translate(579.9 233.6) rotate(-90)" text-anchor="end">9</text>
<text transform="translate(579.9 248.2) rotate(-90)" text-anchor="end">BLU/BLK</text>
<text transform="translate(605.5 233.6) rotate(-90)" text-anchor="end">13</text>
<text transform="translate(605.5 248.2) rotate(-90)" text-anchor="end">WHT</text>
<text transform="translate(643.8 233.6) rotate(-90)" text-anchor="end">7</text>
<text transform="translate(643.8 248.2) rotate(-90)" text-anchor="end">YEL</text>
<text transform="translate(669.4 233.6) rotate(-90)" text-anchor="end">2</text>
<text transform="translate(669.4 248.2) rotate(-90)" text-anchor="end">BRN</text>
<text transform="translate(694.9 233.6) rotate(-90)" text-anchor="end">6</text>
<text transform="translate(694.9 248.2) rotate(-90)" text-anchor="end">GRN</text>
<text transform="translate(720.5 233.6) rotate(-90)" text-anchor="end">18</text>
<text transform="translate(720.5 248.2) rotate(-90)" text-anchor="end">BLU</text>
<text transform="translate(746.1 233.6) rotate(-90)" text-anchor="end">17</text>
<text transform="translate(746.1 248.2) rotate(-90)" text-anchor="end">YEL/BLK</text>
<text transform="translate(771.6 233.6) rotate(-90)" text-anchor="end">11</text>
<text transform="translate(771.6 248.2) rotate(-90)" text-anchor="end">YEL</text>
<text transform="translate(797.2 233.6) rotate(-90)" text-anchor="end">12</text>
<text transform="translate(797.2 248.2) rotate(-90)" text-anchor="end">RED</text>
<text transform="translate(822.8 233.6) rotate(-90)" text-anchor="end">16</text>
<text transform="translate(822.8 248.2) rotate(-90)" text-anchor="end">PNK</text>
<text transform="translate(848.3 233.6) rotate(-90)" text-anchor="end">5</text>
<text transform="translate(848.3 248.2) rotate(-90)" text-anchor="end">ORG</text>
<text transform="translate(861.1 233.6) rotate(-90)" text-anchor="end">10</text>
<text transform="translate(861.1 248.2) rotate(-90)" text-anchor="end">GRN</text>
<text transform="translate(644.5 169.6) rotate(-90)" text-anchor="start">OD VFS</text>
<text transform="translate(670.1 169.6) rotate(-90)" text-anchor="start">EC VFS</text>
<text transform="translate(695.6 169.6) rotate(-90)" text-anchor="start">35R VFS</text>
<text transform="translate(721.2 169.6) rotate(-90)" text-anchor="start">SS-A</text>
<text transform="translate(746.8 169.6) rotate(-90)" text-anchor="start">LP VFS</text>
<text transform="translate(772.3 169.6) rotate(-90)" text-anchor="start">26 VFS</text>
<text transform="translate(797.9 169.6) rotate(-90)" text-anchor="start">SS-B</text>
<text transform="translate(823.5 169.6) rotate(-90)" text-anchor="start">UD VFS</text>
<text transform="translate(594.0 173.5) rotate(-90)" text-anchor="middle">OIL TEMP SENSOR</text>
<text x="180.1" y="120.6" text-anchor="middle">OXYGEN</text>
<text x="180" y="129.9" text-anchor="middle">SENSOR 2</text>
<text x="180.1" y="139.0" text-anchor="middle">(B2/S1)</text>
<text x="269.4" y="100.2" text-anchor="middle">(RIGHT FRONT</text>
<text x="271" y="109.5" text-anchor="middle">OF ENGINE)</text>
<text x="269.7" y="119.4" text-anchor="middle">OXYGEN</text>
<text x="269.4" y="128.7" text-anchor="middle">SENSOR 3</text>
<text x="270" y="137.8" text-anchor="middle">(B1/S2)</text>
<text x="333.5" y="99.7" text-anchor="middle">(LEFT REAR</text>
<text x="334.5" y="109" text-anchor="middle">OF ENGINE)</text>
<text x="330.8" y="118.6" text-anchor="middle">OXYGEN</text>
<text x="330.3" y="127.7" text-anchor="middle">SENSOR 4</text>
<text x="331.4" y="136.8" text-anchor="middle">(B2/S2)</text>
<text x="643.8" y="91.6" text-anchor="middle">(TOP OF TRANSAXLE)</text>
<text x="643.5" y="100.6" text-anchor="middle">ATM SOLENOID VALVE</text>
<text x="440.2" y="156" text-anchor="middle">INPUT SPEED</text>
<text x="525.8" y="156" text-anchor="middle">OUTPUT SPEED</text>
</g>
<path d="M20.7 851 V75.8 H947.5" stroke="#6e6e6e" stroke-width="1.2" fill="none"/>
<path d="M947.5 75.8 V851" stroke="#161616" stroke-width="1.2" fill="none"/>
</svg>
</body></html>
